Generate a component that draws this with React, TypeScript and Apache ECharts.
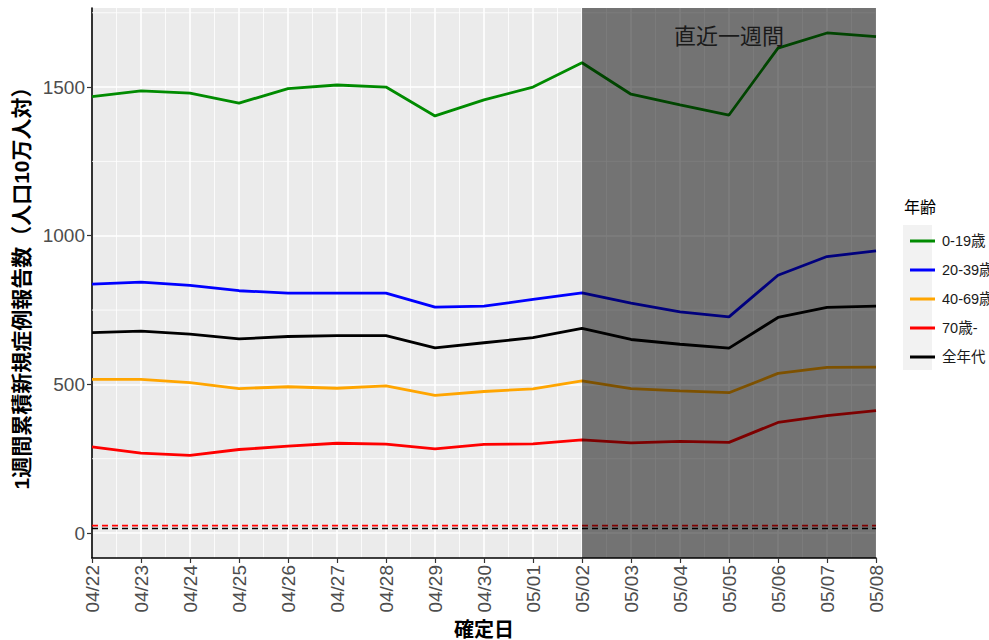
import React, { useEffect, useRef } from "react";
import * as echarts from "echarts";

const dates = [
  "04/22", "04/23", "04/24", "04/25", "04/26", "04/27", "04/28", "04/29", "04/30",
  "05/01", "05/02", "05/03", "05/04", "05/05", "05/06", "05/07", "05/08",
];
const age0to19 = [1468, 1487, 1480, 1446, 1495, 1507, 1500, 1403, 1457, 1500, 1582, 1476, 1440, 1406, 1631, 1682, 1670];
const age20to39 = [837, 844, 833, 815, 807, 807, 807, 760, 763, 786, 808, 773, 744, 727, 867, 930, 949];
const age40to69 = [517, 517, 506, 486, 492, 487, 495, 463, 476, 485, 512, 486, 478, 472, 537, 557, 558];
const age70plus = [290, 269, 261, 281, 292, 302, 299, 283, 298, 300, 313, 303, 308, 305, 372, 395, 412];
const allAges = [674, 679, 669, 653, 661, 664, 664, 623, 640, 657, 688, 651, 635, 622, 725, 759, 763];

const seriesNames = ["0-19歳", "20-39歳", "40-69歳", "70歳-", "全年代"];
const seriesValues = [age0to19, age20to39, age40to69, age70plus, allAges];
const seriesColors = ["#008B00", "#0000FF", "#FFA500", "#FF0000", "#000000"];

const thresholdValues = [25, 15];
const thresholdColors = ["#FF0000", "#000000"];

const yBreaks = [0, 500, 1000, 1500];
const yMinorBreaks = [250, 750, 1250, 1750];
const yMin = -84;
const yMax = 1766;

const recentStart = "05/02";
const recentEnd = "05/08";
const recentLabel = "直近一週間";
const recentLabelY = 1670;

const FONT = "'Liberation Sans', Arial, 'Noto Sans CJK JP', sans-serif";

export default function App() {
  const ref = useRef<HTMLDivElement>(null);
  useEffect(() => {
    if (!ref.current) return;
    const chart = echarts.init(ref.current, null, { renderer: "svg" });
    const lineSeries = seriesNames.map((name, k) => ({
      name,
      type: "line",
      z: 3,
      showSymbol: false,
      symbol: "none",
      silent: true,
      color: seriesColors[k],
      lineStyle: { color: seriesColors[k], width: 2.8 },
      data: dates.map((_, i) => [i, seriesValues[k][i]]),
    }));
    const thresholdSeries = thresholdValues.map((v, k) => ({
      name: "threshold" + k,
      type: "line",
      z: 3,
      symbol: "none",
      silent: true,
      lineStyle: { color: thresholdColors[k], width: 1.6, type: [6, 4] },
      data: [[0, v], [dates.length - 1, v]],
    }));
    const option: any = {
      animation: false,
      backgroundColor: "#ffffff",
      textStyle: { fontFamily: FONT },
      grid: {
        left: 92,
        top: 8,
        right: 113,
        bottom: 82,
        show: true,
        backgroundColor: "#EBEBEB",
        borderWidth: 0,
        containLabel: false,
        outerBoundsMode: "none",
      },
      legend: {
        data: seriesNames,
        orient: "vertical",
        left: 905,
        top: 227,
        icon: "rect",
        itemWidth: 25,
        itemHeight: 3,
        itemGap: 11,
        selectedMode: false,
        textStyle: {
          fontSize: 14.5,
          color: "#1A1A1A",
          fontFamily: FONT,
          lineHeight: 18,
          padding: [0, 0, 0, 2],
        },
      },
      graphic: [
        {
          type: "rect",
          left: 903,
          top: 225,
          shape: { width: 29, height: 145 },
          style: { fill: "#F2F2F2" },
          z: -1,
        },
        {
          type: "text",
          left: 904,
          top: 199,
          style: { text: "年齢", fontSize: 16, fill: "#000", fontFamily: FONT },
        },
      ],
      xAxis: {
        type: "value",
        min: 0,
        max: dates.length - 1,
        interval: 1,
        name: "確定日",
        nameLocation: "middle",
        nameGap: 62,
        nameTextStyle: { fontSize: 20, fontWeight: "bold", color: "#000", fontFamily: FONT },
        axisLine: { show: true, onZero: false, lineStyle: { color: "#000", width: 1.6 } },
        axisTick: { show: true, length: 5, lineStyle: { color: "#333", width: 1.2 } },
        axisLabel: {
          rotate: 90,
          margin: 7,
          fontSize: 19,
          color: "#4D4D4D",
          fontFamily: FONT,
          formatter: (v: number) => dates[Math.round(v)] ?? "",
        },
        splitLine: { show: true, lineStyle: { color: "#FFFFFF", width: 1.6 } },
        minorTick: { show: false, splitNumber: 2 },
        minorSplitLine: { show: true, lineStyle: { color: "#FFFFFF", width: 0.8 } },
      },
      yAxis: {
        type: "value",
        min: yMin,
        max: yMax,
        minInterval: 500,
        maxInterval: 500,
        splitNumber: 4,
        name: "1週間累積新規症例報告数（人口10万人対）",
        nameLocation: "middle",
        nameRotate: 90,
        nameGap: 47,
        nameTextStyle: { fontSize: 21, fontWeight: "bold", color: "#000", fontFamily: FONT },
        axisLine: { show: true, onZero: false, lineStyle: { color: "#000", width: 1.6 } },
        axisTick: { show: true, length: 5, customValues: yBreaks, lineStyle: { color: "#333", width: 1.2 } },
        axisLabel: {
          margin: 7,
          fontSize: 19,
          color: "#4D4D4D",
          fontFamily: FONT,
          customValues: yBreaks,
          formatter: (v: number) => String(v),
        },
        splitLine: { show: true, lineStyle: { color: "#FFFFFF", width: 1.6 } },
      },
      series: [
        {
          type: "custom",
          name: "minor-grid",
          z: 1,
          silent: true,
          data: yMinorBreaks.map((v) => [0, v]),
          renderItem: (params: any, api: any) => {
            const cs = params.coordSys;
            const y = api.coord([0, api.value(1)])[1];
            return {
              type: "line",
              shape: { x1: cs.x, y1: y, x2: cs.x + cs.width, y2: y },
              style: { stroke: "#FFFFFF", lineWidth: 0.8 },
            };
          },
        },
        ...lineSeries,
        ...thresholdSeries,
        {
          type: "custom",
          name: "recent",
          z: 10,
          silent: true,
          data: [[dates.indexOf(recentStart), dates.indexOf(recentEnd)]],
          renderItem: (params: any, api: any) => {
            const cs = params.coordSys;
            const a = api.value(0);
            const b = api.value(1);
            const x0 = api.coord([a, 0])[0];
            const x1 = api.coord([b, 0])[0];
            const tp = api.coord([(a + b) / 2, recentLabelY]);
            return {
              type: "group",
              children: [
                {
                  type: "rect",
                  shape: { x: x0, y: cs.y, width: x1 - x0, height: cs.height },
                  style: { fill: "rgba(0,0,0,0.51)" },
                },
                {
                  type: "text",
                  x: tp[0],
                  y: tp[1],
                  style: {
                    text: recentLabel,
                    fill: "#1A1A1A",
                    fontSize: 22,
                    fontFamily: FONT,
                    align: "center",
                    verticalAlign: "middle",
                  },
                },
              ],
            };
          },
        },
      ],
    };
    chart.setOption(option);
    return () => chart.dispose();
  }, []);
  return (
    <div
      ref={ref}
      style={{ position: "fixed", left: 0, top: 0, width: 989, height: 640, background: "#fff" }}
    />
  );
}
